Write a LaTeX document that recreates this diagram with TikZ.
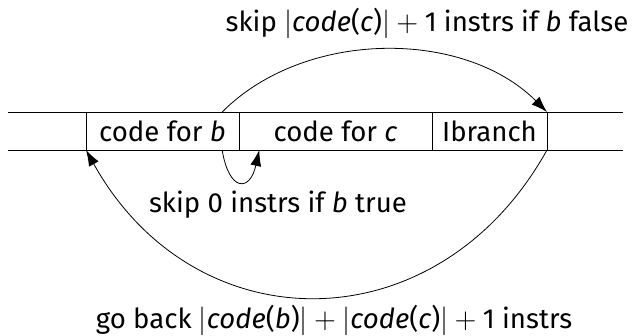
\documentclass[tikz,border=0pt]{standalone}
\usepackage{fontspec}
\setmainfont{Fira Sans}
\usetikzlibrary{positioning,calc,arrows.meta}
\tikzset{
  codebox/.style={draw, inner sep=0pt, outer sep=0pt, minimum height=19pt},
  jump/.style={-{Latex[length=8pt,width=5.5pt]}},
}
\newcommand{\sizeof}[1]{$|$\textit{code}(\textit{#1})$|$}
\newcommand{\plus}{${}+{}$}
\begin{document}
\begin{tikzpicture}[x=0.5pt,y=-0.5pt, font=\fontsize{13.8}{16}\selectfont, line join=round]
  \useasboundingbox (0,0) rectangle (638,336);
  \def\ytop{112} \def\ybot{150} % strip edges
  % the instruction strip
  \coordinate (tl) at (8,\ytop);   \coordinate (tr) at (623,\ytop);
  \coordinate (bl) at (8,\ybot);   \coordinate (br) at (623,\ybot);
  \draw (tl) -- (tr);
  \draw (bl) -- (br);
  \node[codebox, minimum width=76.5pt] (bcode) at (162.5,131) {code for \textit{b}};
  \node[codebox, minimum width=96.5pt, right=0pt of bcode] (ccode) {code for \textit{c}};
  \node[codebox, minimum width=57.5pt, right=0pt of ccode] (ibr) {Ibranch};
  % jumps
  \coordinate (bt) at ($(bcode.north west)!0.89!(bcode.north east)$);
  \coordinate (bb) at ($(bcode.south west)!0.89!(bcode.south east)$);
  \coordinate (cb) at ($(ccode.south west)!0.105!(ccode.south east)$);
  \draw[jump] (bt) .. controls (305,29) and (464,29) .. (ibr.north east);
  \draw[jump] (bb) .. controls (229,192) and (250,192) .. (cb);
  \draw[jump] (ibr.south east) .. controls (438,346) and (195,346) .. (bcode.south west);
  % labels
  \node (lfalse) at (427,23) {skip \sizeof{c}\plus1 instrs if \textit{b} false};
  \node (ltrue) at (278,205) {skip 0 instrs if \textit{b} true};
  \node (lback) at (334,320) {go back \sizeof{b}\plus\sizeof{c}\plus1 instrs};
\end{tikzpicture}
\end{document}
